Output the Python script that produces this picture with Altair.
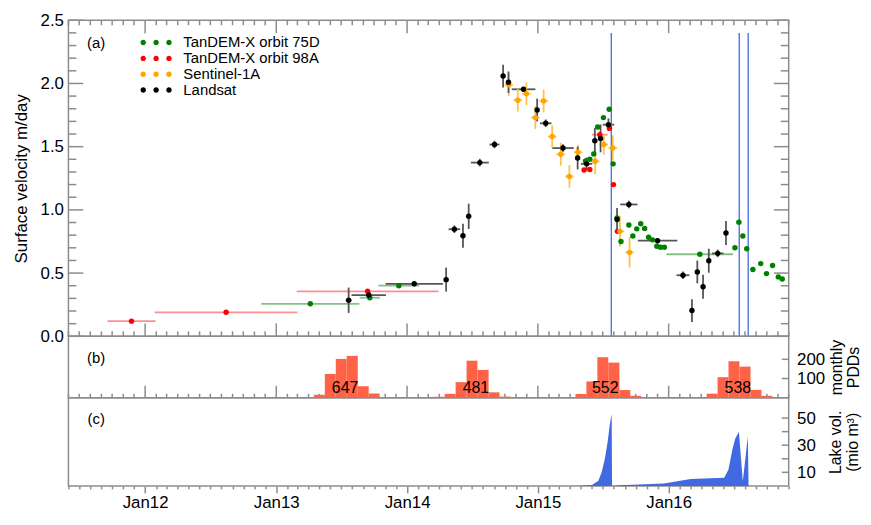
import altair as alt
import pandas as pd

# ---------------- data ----------------
series_names = ["TanDEM-X orbit 75D", "TanDEM-X orbit 98A", "Sentinel-1A", "Landsat"]
point_colors = ["#008000", "#ff0000", "#ffa500", "#000000"]
err_colors = ["#86c086", "#ff8f8f", "#ffc247", "#555555"]

tdx75_dates = ["2013-04-06", "2013-09-19", "2013-12-09",
               "2015-05-14", "2015-05-26", "2015-06-06", "2015-06-17", "2015-07-03", "2015-07-19", "2015-07-30",
               "2015-08-10", "2015-08-21", "2015-09-12", "2015-09-23", "2015-10-04", "2015-10-15", "2015-10-26",
               "2015-11-06", "2015-11-17", "2015-11-29", "2015-12-09", "2015-12-20",
               "2016-03-28",
               "2016-07-04", "2016-07-15", "2016-07-26", "2016-08-06", "2016-08-23", "2016-09-14", "2016-09-30",
               "2016-10-17", "2016-11-02", "2016-11-13"]
tdx75_v = [0.257, 0.305, 0.40,
           1.387, 1.40, 1.443, 1.656, 1.73, 1.796, 1.364,
           0.937, 0.75, 0.88, 0.794, 0.85, 0.89, 0.853, 0.784, 0.763, 0.712, 0.705, 0.705,
           0.649,
           0.70, 0.903, 0.794, 0.692, 0.529, 0.575, 0.496, 0.56, 0.47, 0.453]
tdx75_xerr = [137, 28, 57,
              0, 0, 0, 0, 5, 0, 0,
              0, 0, 0, 0, 0, 0, 0, 0, 0, 0, 0, 0,
              93,
              0, 0, 0, 0, 5, 0, 0, 5, 0, 0]
tdx75_yerr = [0] * 33

tdx98_dates = ["2011-11-24", "2012-08-14", "2013-09-13", "2015-05-10", "2015-05-26", "2015-06-23",
               "2015-07-20", "2015-07-31", "2015-08-11"]
tdx98_v = [0.12, 0.19, 0.356, 1.315, 1.32, 1.595, 1.646, 1.20, 0.83]
tdx98_xerr = [67, 199, 198, 5, 5, 22, 0, 0, 0]
tdx98_yerr = [0] * 9

s1_dates = ["2014-10-12", "2014-11-06", "2014-11-30", "2014-12-25", "2015-01-17", "2015-02-10", "2015-03-06",
            "2015-03-30", "2015-04-23", "2015-06-10", "2015-07-04", "2015-07-29", "2015-08-18", "2015-09-14"]
s1_v = [1.99, 1.868, 1.918, 1.73, 1.862, 1.58, 1.44, 1.265, 1.456, 1.384, 1.517, 1.489, 0.83, 0.664]
s1_xerr = [12] * 14
s1_yerr = [0.09, 0.09, 0.09, 0.09, 0.09, 0.09, 0.09, 0.09, 0.06, 0.1, 0.08, 0.1, 0.12, 0.12]

ls_dates = ["2013-07-22", "2013-09-16", "2014-01-21", "2014-04-20", "2014-05-13", "2014-06-06", "2014-06-22",
            "2014-07-23", "2014-09-02", "2014-09-26", "2014-10-11", "2014-11-22", "2014-12-30", "2015-01-23",
            "2015-03-12", "2015-04-22", "2015-05-17", "2015-06-09", "2015-06-25", "2015-07-17", "2015-08-10",
            "2015-09-12", "2015-12-01", "2016-02-10", "2016-03-06", "2016-03-21", "2016-04-06", "2016-04-22",
            "2016-05-17", "2016-06-09"]
ls_v = [0.285, 0.326, 0.415, 0.448, 0.847, 0.796, 0.949, 1.374, 1.517, 2.059, 2.01, 1.954, 1.79, 1.685,
        1.489, 1.41, 1.364, 1.547, 1.565, 1.674, 0.924, 1.043, 0.756, 0.483, 0.204, 0.509, 0.392, 0.598,
        0.656, 0.817]
ls_xerr = [8, 48, 80, 6, 16, 5, 5, 25, 14, 5, 5, 33, 5, 16, 30, 5, 16, 5, 5, 16, 5, 24, 55, 18, 5, 5, 5, 5, 16, 5]
ls_yerr = [0.1, 0.02, 0.02, 0.095, 0.03, 0.095, 0.1, 0.03, 0.03, 0.09, 0.085, 0.02, 0.09, 0.03, 0.03, 0.09,
           0.05, 0.1, 0.11, 0.05, 0.09, 0.03, 0.02, 0.03, 0.09, 0.09, 0.095, 0.095, 0.03, 0.095]

event_dates = ["2015-07-25", "2016-07-16", "2016-08-10"]

pdd_months = ["2013-05-01", "2013-06-01", "2013-07-01", "2013-08-01", "2013-09-01", "2013-10-01",
              "2014-04-01", "2014-05-01", "2014-06-01", "2014-07-01", "2014-08-01", "2014-09-01", "2014-10-01",
              "2015-05-01", "2015-06-01", "2015-07-01", "2015-08-01", "2015-09-01", "2015-10-01",
              "2016-05-01", "2016-06-01", "2016-07-01", "2016-08-01", "2016-09-01", "2016-10-01"]
pdd_values = [15, 124, 202, 218, 60, 22,
              5, 20, 81, 193, 145, 28, 6,
              19, 85, 211, 183, 40, 10,
              21, 107, 190, 162, 41, 10]
pdd_total_dates = ["2013-07-12", "2014-07-12", "2015-07-08", "2016-07-12"]
pdd_totals = ["647", "481", "552", "538"]

lake_dates = ["2015-04-20", "2015-06-01", "2015-06-19", "2015-06-28", "2015-07-07", "2015-07-15", "2015-07-21",
              "2015-07-26", "2015-07-27", "2015-08-18", "2015-12-19", "2016-03-03", "2016-06-04", "2016-06-16",
              "2016-06-27", "2016-07-05", "2016-07-15", "2016-07-26", "2016-08-09", "2016-08-11"]
lake_vol = [0, 0.7, 3.8, 10, 20, 33, 45.6, 53, 0, 0.4, 1.8, 5, 6, 12, 27, 35, 40, 3.5, 36.6, 0]

# axis tick positions
major_dates = ["2012-01-01", "2013-01-01", "2014-01-01", "2015-01-01", "2016-01-01"]
minor_dates = [f"{y}-{m:02d}-01" for y in range(2011, 2017) for m in range(2, 13)
               if (2011, 6) <= (y, m) <= (2016, 12)]
ya_major = [0.0, 0.5, 1.0, 1.5, 2.0, 2.5]
ya_minor = [round(i * 0.1, 1) for i in range(26) if i % 5 != 0]
yb_ticks = [100, 200]
yc_ticks = [10, 20, 30, 40, 50]

# ---------------- tables ----------------
def make_series(name, dates, v, xerr, yerr):
    return pd.DataFrame({"series": name, "date": pd.to_datetime(dates), "v": v, "xerr": xerr, "yerr": yerr})

vel = pd.concat([
    make_series(series_names[0], tdx75_dates, tdx75_v, tdx75_xerr, tdx75_yerr),
    make_series(series_names[1], tdx98_dates, tdx98_v, tdx98_xerr, tdx98_yerr),
    make_series(series_names[2], s1_dates, s1_v, s1_xerr, s1_yerr),
    make_series(series_names[3], ls_dates, ls_v, ls_xerr, ls_yerr),
], ignore_index=True)
vel["start"] = (vel["date"] - pd.to_timedelta(vel["xerr"], unit="D")).dt.strftime("%Y-%m-%d")
vel["end"] = (vel["date"] + pd.to_timedelta(vel["xerr"], unit="D")).dt.strftime("%Y-%m-%d")
vel["lo"] = vel["v"] - vel["yerr"]
vel["hi"] = vel["v"] + vel["yerr"]
vel["date"] = vel["date"].dt.strftime("%Y-%m-%d")
vel["ecol"] = vel["series"].map(dict(zip(series_names, err_colors)))
vel_x = vel[vel["xerr"] > 0]
vel_y = vel[vel["yerr"] > 0]

centers = pd.to_datetime(pdd_months)
prev_m = centers - pd.DateOffset(months=1)
next_m = centers + pd.DateOffset(months=1)
pdd = pd.DataFrame({
    "start": (prev_m + (centers - prev_m) / 2).strftime("%Y-%m-%dT%H:%M:%SZ"),
    "end": (centers + (next_m - centers) / 2).strftime("%Y-%m-%dT%H:%M:%SZ"),
    "pdd": pdd_values,
})
pdd_lab = pd.DataFrame({"date": pdd_total_dates, "txt": pdd_totals})
lake = pd.DataFrame({"date": lake_dates, "vol": lake_vol})
events = pd.DataFrame({"date": event_dates})

# ---------------- styling ----------------
W = 727
HA, HB, HC = 319, 62, 89
FONT = "Liberation Sans"
FRAME = "#8c8c8c"
LFS = 17

XDOM = [alt.DateTime(year=2011, month=6, date=1, utc=True), alt.DateTime(year=2016, month=12, date=1, utc=True)]
xscale = alt.Scale(type="utc", domain=XDOM)

ya = alt.Scale(domain=[0, 2.5], nice=False, zero=False)
yb = alt.Scale(domain=[0, 320], nice=False)
yc = alt.Scale(domain=[0, 65], nice=False)

xa = alt.X("date:T", scale=xscale, axis=None)
anchor = pd.DataFrame({"date": ["2012-01-01"], "v": [0.0]})


def axis_layer(xaxis, yaxis, yscale):
    return alt.Chart(anchor).mark_point(opacity=0).encode(
        x=alt.X("date:T", scale=xscale, axis=xaxis),
        y=alt.Y("v:Q", scale=yscale, axis=yaxis),
    )


def xtick_rules(dates, y0, y1):
    return alt.Chart(pd.DataFrame({"date": dates})).mark_rule(color=FRAME, strokeWidth=1.5).encode(
        x=xa, y=alt.value(y0), y2=alt.value(y1))


def ytick_rules(vals, yscale, x0, x1):
    return alt.Chart(pd.DataFrame({"v": vals})).mark_rule(color=FRAME, strokeWidth=1.5).encode(
        y=alt.Y("v:Q", scale=yscale, axis=None), x=alt.value(x0), x2=alt.value(x1))


def ylabels(orient, values, title, pad, tpad, fmt=None, title_xy=None):
    kw = dict(orient=orient, values=values, ticks=False, tickSize=0, domain=False, grid=False,
              labelPadding=pad, title=title, titlePadding=tpad, labelFontSize=LFS, titleFontSize=LFS,
              labelFont=FONT, titleFont=FONT, titleFontWeight="normal", labelColor="black",
              titleColor="black")
    if fmt:
        kw["format"] = fmt
    if title_xy is not None:
        kw.update(titleAngle=270, titleBaseline="top", titleAlign="center", titleFontSize=16,
                  titleLineHeight=17.5, titleX=title_xy[0], titleY=title_xy[1])
    return alt.Axis(**kw)


def panel_label(txt, y):
    return alt.Chart(pd.DataFrame({"t": [txt]})).mark_text(
        fontSize=15, font=FONT, color="black", align="center", baseline="middle"
    ).encode(text="t:N", x=alt.value(28), y=alt.value(y))


# legend symbol: three dots in a row
def _dot(cx, r):
    return f"M{cx - r:.2f},0A{r},{r} 0 1,0 {cx + r:.2f},0A{r},{r} 0 1,0 {cx - r:.2f},0Z"


DOTS = _dot(-2.6, 0.55) + _dot(0, 0.55) + _dot(2.6, 0.55)

# ---------------- panel (a) ----------------
a_layers = [
    axis_layer(None, ylabels("left", ya_major, "Surface velocity m/day", 5, 10, fmt=".1f"), ya),
    xtick_rules(major_dates, 0, 13), xtick_rules(minor_dates, 0, 5),
    xtick_rules(major_dates, HA, HA - 13), xtick_rules(minor_dates, HA, HA - 5),
    ytick_rules(ya_major, ya, 0, 15), ytick_rules(ya_minor, ya, 0, 8),
    ytick_rules(ya_major, ya, W, W - 15), ytick_rules(ya_minor, ya, W, W - 8),
]

h_err = alt.Chart(vel_x).mark_rule(strokeWidth=1.8).encode(
    x=alt.X("start:T", scale=xscale, axis=None), x2="end:T",
    y=alt.Y("v:Q", scale=ya, axis=None), stroke=alt.Stroke("ecol:N", scale=None))
v_err = alt.Chart(vel_y).mark_rule(strokeWidth=1.8).encode(
    x=xa, y=alt.Y("lo:Q", scale=ya, axis=None), y2="hi:Q", stroke=alt.Stroke("ecol:N", scale=None))

ev_lines = alt.Chart(events).mark_rule(color="#4f75e3", strokeWidth=1.4).encode(
    x=xa, y=alt.Y(datum=2.4, scale=ya, axis=None), y2=alt.Y2(datum=0))

points = alt.Chart(vel).mark_circle(size=30, opacity=1).encode(
    x=xa, y=alt.Y("v:Q", scale=ya, axis=None),
    color=alt.Color("series:N", scale=alt.Scale(domain=series_names, range=point_colors),
                    legend=alt.Legend(orient="none", legendX=81, legendY=15, title=None,
                                      symbolType=DOTS, symbolSize=100, symbolStrokeWidth=0,
                                      symbolOpacity=1,
                                      labelFontSize=15, labelFont=FONT, labelColor="black",
                                      labelOffset=20, rowPadding=0)),
)

panel_a = alt.layer(*a_layers, h_err, v_err, ev_lines, points, panel_label("(a)", 23)).resolve_axis(
    x="independent", y="independent").properties(width=W, height=HA)

# ---------------- panel (b) ----------------
b_layers = [
    axis_layer(None, ylabels("right", yb_ticks, ["monthly", "PDDs"], 8, 3, title_xy=(40, HB / 2)), yb),
    xtick_rules(major_dates, HB, HB - 12), xtick_rules(minor_dates, HB, HB - 4),
    ytick_rules(yb_ticks, yb, W, W - 7),
]
bars = alt.Chart(pdd).mark_rect(color="#ff6347").encode(
    x=alt.X("start:T", scale=xscale, axis=None), x2="end:T",
    y=alt.Y("pdd:Q", scale=yb, axis=None), y2=alt.Y2(datum=0))
bar_txt = alt.Chart(pdd_lab).mark_text(fontSize=16, font=FONT, color="black", baseline="middle").encode(
    x=xa, y=alt.Y(datum=52, scale=yb, axis=None), text="txt:N")

panel_b = alt.layer(*b_layers, bars, bar_txt, panel_label("(b)", 22)).resolve_axis(
    x="independent", y="independent").properties(width=W, height=HB)

# ---------------- panel (c) ----------------
c_xaxis = alt.Axis(orient="bottom", values=[alt.DateTime(year=y, month=1, date=1, utc=True) for y in range(2012, 2017)],
                   domain=False, grid=False, title=None,
                   labelExpr="utcFormat(datum.value, '%b%y')", labelFontSize=LFS, labelFont=FONT,
                   labelColor="black", labelOverlap=False, labelFlush=False, labelPadding=2,
                   tickSize=7, tickColor=FRAME, tickWidth=1.5)
c_minor_axis = alt.Axis(orient="bottom",
                        values=[alt.DateTime(year=int(d[:4]), month=int(d[5:7]), date=1, utc=True) for d in minor_dates],
                        labels=False, domain=False, grid=False, title=None,
                        tickSize=3, tickColor=FRAME, tickWidth=1.5)
c_layers = [
    axis_layer(c_xaxis, ylabels("right", yc_ticks, ["Lake vol.", "(mio m³)"], 8, 12, title_xy=(39, HC / 2)), yc),
    axis_layer(c_minor_axis, None, yc),
    ytick_rules(yc_ticks, yc, W, W - 7),
]
area = alt.Chart(lake).mark_area(color="#4169e1", opacity=1, interpolate="linear").encode(
    x=xa, y=alt.Y("vol:Q", scale=yc, axis=None))

panel_c = alt.layer(*c_layers, area, panel_label("(c)", 22)).resolve_axis(
    x="independent", y="independent").properties(width=W, height=HC)

# ---------------- assemble ----------------
chart = alt.vconcat(panel_a, panel_b, panel_c, spacing=0, bounds="flush").properties(
    padding={"left": 3, "right": 0, "top": 0, "bottom": 0}
).configure(font=FONT).configure_view(
    stroke=FRAME, strokeWidth=1.5
).configure_axis(
    labelFont=FONT, titleFont=FONT, labelFontSize=LFS, titleFontSize=LFS, titleFontWeight="normal",
    labelColor="black", titleColor="black", tickColor=FRAME, tickWidth=1.5
)

chart.save("out.html", embed_options={"renderer": "svg", "actions": False})
